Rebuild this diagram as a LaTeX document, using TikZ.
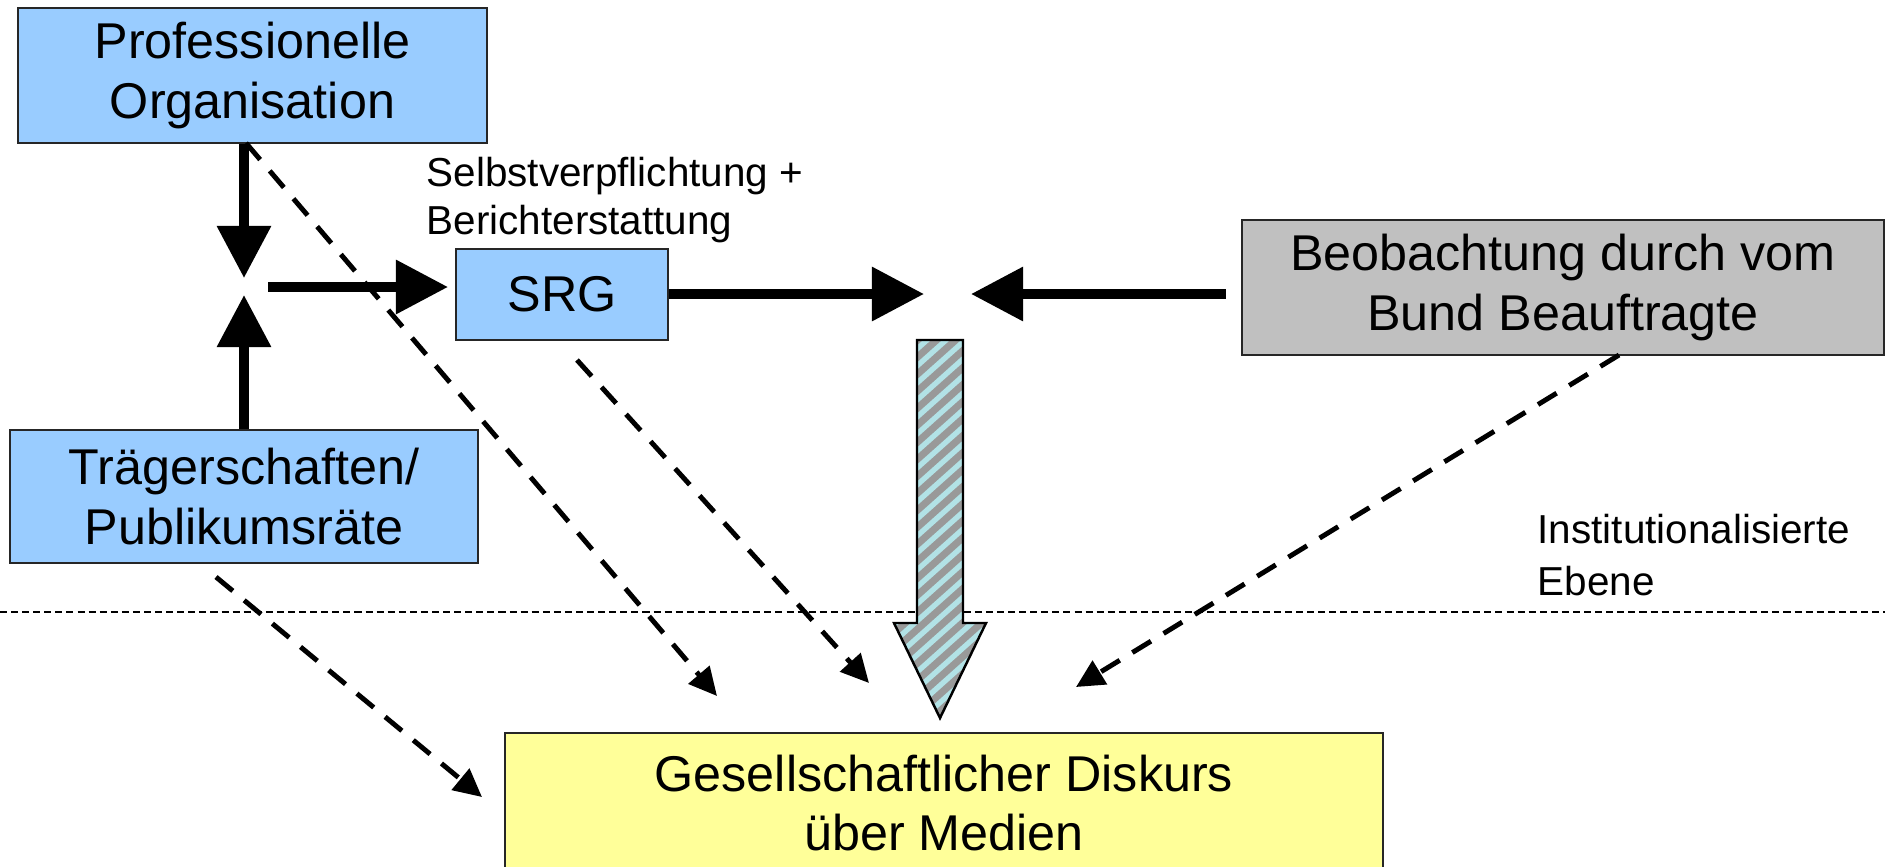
\documentclass[tikz,border=0pt]{standalone}
\usepackage{fontspec}
\setmainfont{Liberation Sans}
\usetikzlibrary{arrows.meta,calc}
\definecolor{boxblue}{HTML}{99CCFF}
\definecolor{boxgray}{HTML}{C0C0C0}
\definecolor{boxyellow}{HTML}{FFFF99}
\definecolor{hatchgray}{HTML}{999999}
\definecolor{hatchcyan}{HTML}{B2E2E6}
\tikzset{
  box/.style={draw=black!85, line width=0.6pt, inner sep=0pt, align=center,
    font=\fontsize{14.3}{17}\selectfont},
  smalltext/.style={inner sep=0pt, anchor=base west, font=\fontsize{11.5}{14}\selectfont},
  thickarrow/.style={line width=2.7pt, -{Triangle[length=0.52cm, width=0.52cm]}},
  dasharrow/.style={line width=1.4pt, dash pattern=on 6.2pt off 4.2pt,
    -{Triangle[length=0.28cm, width=0.27cm]}},
  levelline/.style={line width=0.5pt, dash pattern=on 2pt off 1.15pt},
  stripe/.style={hatchcyan, line width=1.5pt}
}
\begin{document}
\begin{tikzpicture}[x=0.01cm, y=-0.01cm]
\clip (0,0) rectangle (1885,866);
\fill[white] (0,0) rectangle (1885,866);

% level line
\coordinate (lvlL) at (0,612);
\coordinate (lvlR) at (1885,612);
\draw[levelline] (lvlL) -- (lvlR);

% boxes
\node[box, fill=boxblue, minimum width=4.69cm, minimum height=1.35cm] (prof) at (252.5,75.5) {Professionelle\\Organisation};
\node[box, fill=boxblue, minimum width=4.68cm, minimum height=1.33cm] (traeger) at (244,496.5) {Trägerschaften/\\Publikumsräte};
\node[box, fill=boxblue, minimum width=2.12cm, minimum height=0.91cm] (srg) at (562,294.5) {SRG};
\node[box, fill=boxgray, minimum width=6.42cm, minimum height=1.35cm] (beob) at (1563,287.5) {Beobachtung durch vom\\Bund Beauftragte};
\node[box, fill=boxyellow, minimum width=8.78cm, minimum height=1.40cm] (disk) at (944,803) {Gesellschaftlicher Diskurs\\über Medien};

% labels
\node[smalltext] (sv1) at (426,186) {Selbstverpflichtung +};
\node[smalltext] (sv2) at (426,234) {Berichterstattung};
\node[smalltext] (ie1) at (1537,543) {Institutionalisierte};
\node[smalltext] (ie2) at (1537,595) {Ebene};

% junction arrows
\coordinate (j) at (244,287);
\coordinate (jdown) at (244,278);
\coordinate (jup) at (244,295);
\coordinate (jr) at (268,287);
\coordinate (srgin) at (448,287);
\draw[thickarrow] (prof.south -| j) -- (jdown);
\draw[thickarrow] (traeger.north -| j) -- (jup);
\draw[thickarrow] (jr) -- (srgin);

% arrows to the meeting point
\coordinate (tipL) at (924,294);
\coordinate (tipR) at (971,294);
\draw[thickarrow] (srg.east |- tipL) -- (tipL);
\draw[thickarrow, shorten <=0.15cm] (beob.west |- tipR) -- (tipR);

% hatched block arrow
\begin{scope}
  \clip (917,340) -- (963,340) -- (963,623) -- (986,623) -- (940,718) -- (894,623) -- (917,623) -- cycle;
  \fill[hatchgray] (880,330) rectangle (1000,730);
  \foreach \k in {0,...,30} {
    \draw[stripe] (870,{340+\k*17}) -- ++(140,-125);
  }
\end{scope}
\draw[line width=0.7pt, line join=miter] (917,340) -- (963,340) -- (963,623) -- (986,623) -- (940,718) -- (894,623) -- (917,623) -- cycle;

% dashed arrows
\coordinate (d1s) at (246,143);
\coordinate (d1e) at (717,696);
\coordinate (d2s) at (577,360);
\coordinate (d2e) at (869,683);
\coordinate (d3s) at (216,577);
\coordinate (d3e) at (482,797);
\coordinate (d4s) at (1619,355);
\coordinate (d4e) at (1076,687);
\draw[dasharrow] (d1s) -- (d1e);
\draw[dasharrow] (d2s) -- (d2e);
\draw[dasharrow] (d3s) -- (d3e);
\draw[dasharrow] (d4s) -- (d4e);
\end{tikzpicture}
\end{document}
